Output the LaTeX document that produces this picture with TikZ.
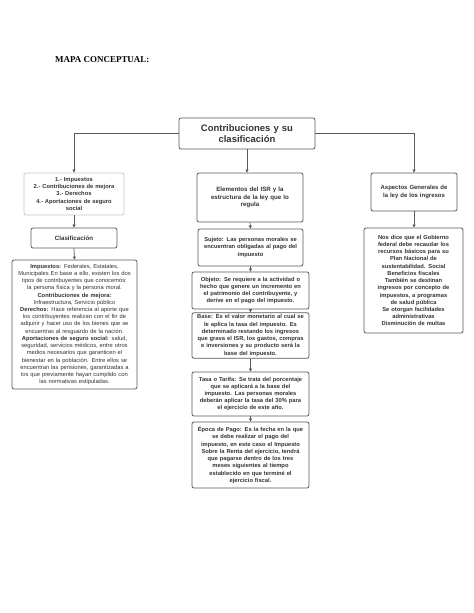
\documentclass[tikz,border=0pt]{standalone}
\usepackage{fontspec}
\setmainfont{Liberation Sans}
\newfontfamily\titlefont{Liberation Serif}
\usetikzlibrary{arrows.meta}
\definecolor{boxline}{HTML}{5A5A5A}
\definecolor{lightline}{HTML}{C8C8C8}
\definecolor{txt}{HTML}{333333}
\tikzset{
  cbox/.style={draw=boxline, line width=0.8bp, rounded corners=2bp, fill=white,
    align=center, inner sep=2bp, text=txt},
  conn/.style={draw=boxline, line width=0.7bp, -{Triangle[length=3bp,width=3bp]}},
  small/.style={font=\fontsize{5.8}{7.25}\selectfont},
  smallb/.style={font=\fontsize{5.8}{7.25}\selectfont\bfseries},
  medb/.style={font=\fontsize{6.2}{7.7}\selectfont\bfseries},
}
\begin{document}
\begin{tikzpicture}[x=1bp,y=-1bp]
\useasboundingbox (0,0) rectangle (474,613);
\fill[white] (0,0) rectangle (474,613);

\node[anchor=west, inner sep=0pt, font=\titlefont\fontsize{9}{10}\selectfont\bfseries] (title) at (55,60) {MAPA CONCEPTUAL:};

\node[cbox, minimum width=136bp, minimum height=31bp, text width=130bp,
  font=\fontsize{9.5}{11.5}\selectfont\bfseries] (main) at (247,133.5)
  {Contribuciones y su\\clasificación};

% left column
\node[cbox, draw=lightline, minimum width=100bp, minimum height=42bp, text width=96bp, smallb] (box1) at (74,194)
  {1.- Impuestos\\2.- Contribuciones de mejora\\3.- Derechos\\4.- Aportaciones de seguro\\social};
\node[cbox, minimum width=86bp, minimum height=20bp, text width=82bp, medb] (clas) at (74,238) {Clasificación};
\node[cbox, minimum width=125bp, minimum height=129bp, text width=121bp, small] (bigl) at (74.5,324.5)
  {\textbf{Impuestos:} Federales, Estatales,\\
   Municipales En base a ello, existen los dos\\
   tipos de contribuyentes que conocemos:\\
   la persona física y la persona moral.\\
   \textbf{Contribuciones de mejora:}\\
   Infraestructura, Servicio público\\
   \textbf{Derechos:} Hace referencia al aporte que\\
   los contribuyentes realizan con el fin de\\
   adquirir y hacer uso de los bienes que se\\
   encuentras al resguardo de la nación.\\
   \textbf{Aportaciones de seguro social:} salud,\\
   seguridad, servicios médicos, entre otros\\
   medios necesarios que garanticen el\\
   bienestar en la población. Entre ellos se\\
   encuentran las pensiones, garantizadas a\\
   los que previamente hayan cumplido con\\
   las normativas estipuladas.};

% middle column
\node[cbox, minimum width=106bp, minimum height=49bp, text width=102bp, medb] (elem) at (250,197.5)
  {Elementos del ISR y la\\estructura de la ley que lo\\regula};
\node[cbox, minimum width=105bp, minimum height=37bp, text width=101bp, smallb] (suj) at (250.5,247.5)
  {Sujeto: Las personas morales se\\encuentran obligadas al pago del\\impuesto};
\node[cbox, minimum width=117bp, minimum height=37bp, text width=113bp, smallb] (obj) at (250.5,290.5)
  {Objeto: Se requiere a la actividad o\\hecho que genere un incremento en\\el patrimonio del contribuyente, y\\derive en el pago del impuesto.};
\node[cbox, minimum width=117bp, minimum height=41bp, text width=113bp, smallb] (base) at (250.5,335.5)
  {Base: Es el valor monetario al cual se\\le aplica la tasa del impuesto. Es\\determinado restando los ingresos\\que grava el ISR, los gastos, compras\\e inversiones y su producto será la\\base del impuesto.};
\node[cbox, minimum width=117bp, minimum height=44bp, text width=113bp, smallb] (tasa) at (250.5,394)
  {Tasa o Tarifa: Se trata del porcentaje\\que se aplicará a la base del\\impuesto. Las personas morales\\deberán aplicar la tasa del 30\% para\\el ejercicio de este año.};
\node[cbox, minimum width=117bp, minimum height=66bp, text width=113bp, smallb] (epoca) at (250.5,455)
  {Época de Pago: Es la fecha en la que\\se debe realizar el pago del\\impuesto, en este caso el Impuesto\\Sobre la Renta del ejercicio, tendrá\\que pagarse dentro de los tres\\meses siguientes al tiempo\\establecido en que terminé el\\ejercicio fiscal.};

% right column
\node[cbox, minimum width=86bp, minimum height=38bp, text width=82bp, medb, font=\fontsize{6}{7.5}\selectfont\bfseries] (asp) at (414,192)
  {Aspectos Generales de\\la ley de los ingresos};
\node[cbox, minimum width=99bp, minimum height=105bp, text width=95bp, smallb] (bigr) at (413.5,280.5)
  {Nos dice que el Gobierno\\federal debe recaudar los\\recursos básicos para su\\Plan Nacional de\\sustentabilidad. Social\\Beneficios fiscales\\También se destinan\\ingresos por concepto de\\impuestos, a programas\\de salud pública\\Se otorgan facilidades\\administrativas\\Disminución de multas};

% connectors
\draw[conn] (main.west) -| (box1.north);
\draw[conn] (main.east) -| (asp.north);
\draw[conn] (main.south) -- (main.south |- elem.north);
\draw[conn] (box1.south) -- (clas.north);
\draw[conn] (clas.south) -- (bigl.north);
\draw[conn] (elem.south) -- (suj.north);
\draw[conn] (suj.south) -- (suj.south |- obj.north);
\draw[conn] (obj.south) -- (base.north);
\draw[conn] (base.south) -- (tasa.north);
\draw[conn] (tasa.south) -- (epoca.north);
\draw[conn] (asp.south) -- (asp.south |- bigr.north);
\end{tikzpicture}
\end{document}
